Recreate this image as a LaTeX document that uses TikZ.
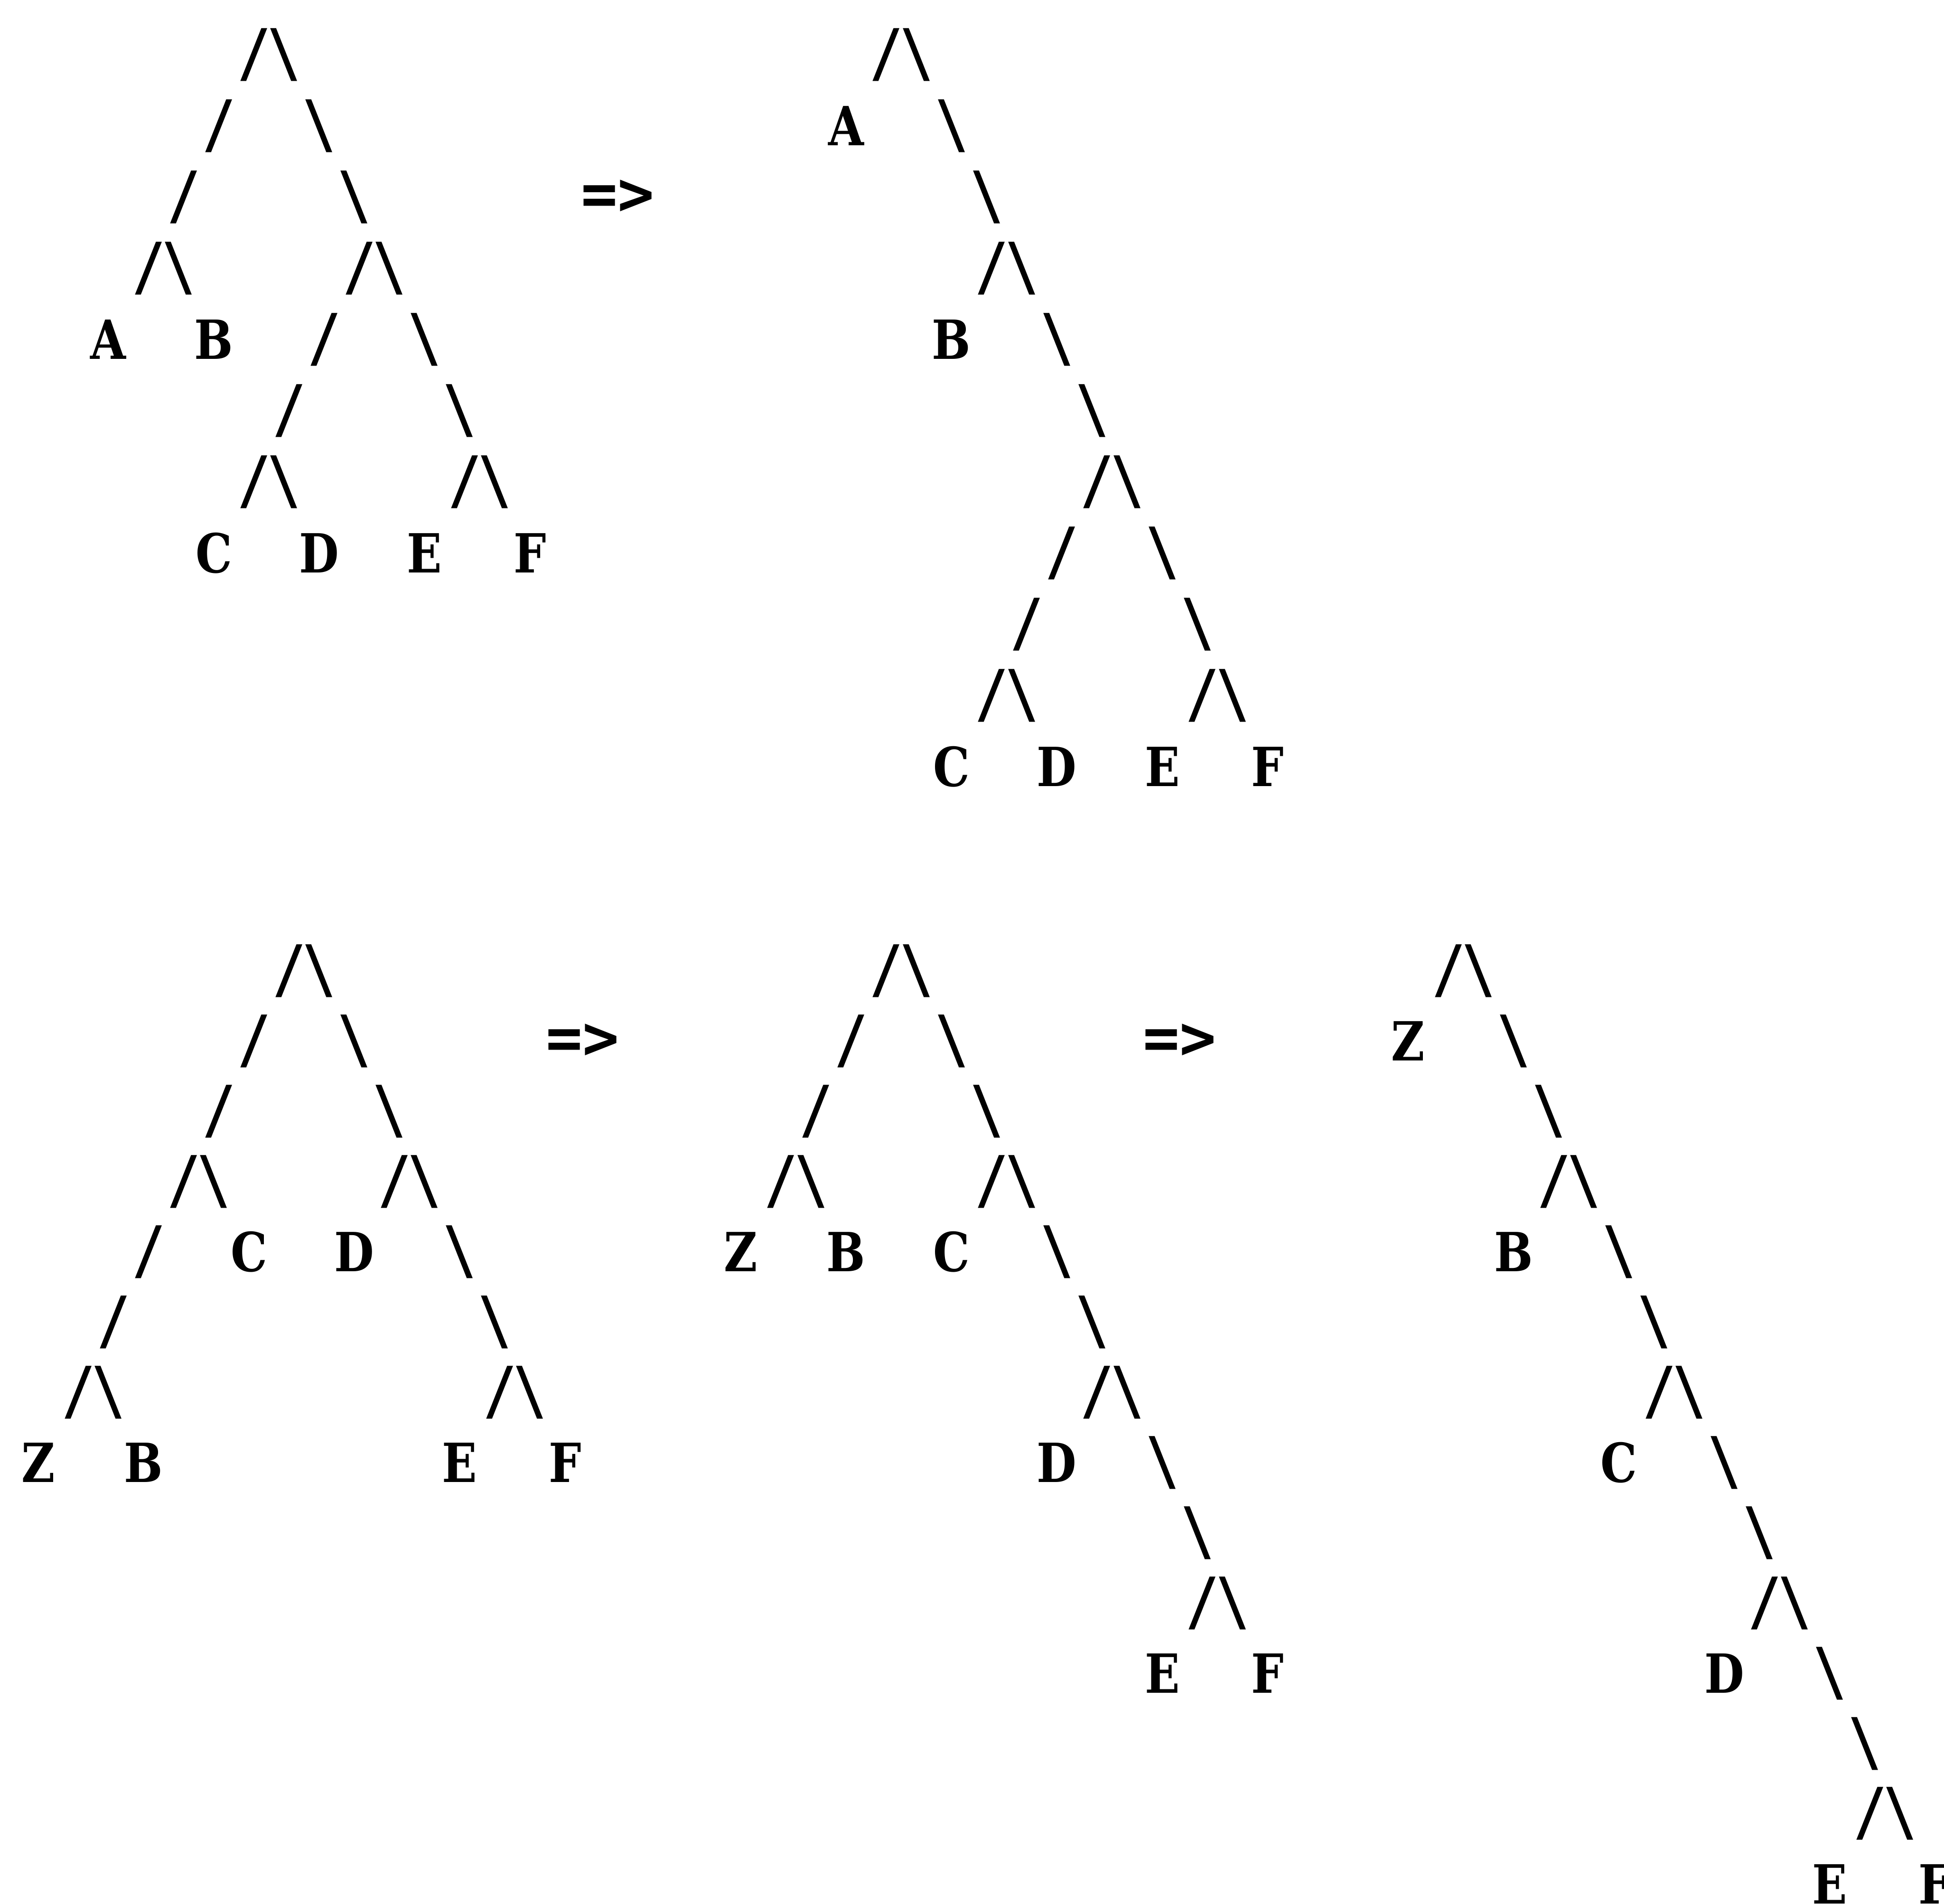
\documentclass[tikz,border=0pt]{standalone}
\usepackage{fontspec}
\newfontfamily\slashfont{DejaVu Sans Mono}[FakeStretch=0.85]
\newfontfamily\symfont{DejaVu Sans Mono}
\newfontfamily\leaffont{DejaVu Serif}[FakeStretch=0.85]

\begin{document}
\begin{tikzpicture}[
  fwd/.style={inner sep=0pt, xshift=1.3mm, font=\slashfont\bfseries\fontsize{46.5}{46.5}\selectfont},
  bck/.style={inner sep=0pt, font=\slashfont\bfseries\fontsize{46.5}{46.5}\selectfont},
  leaf/.style={inner sep=0pt, font=\leaffont\bfseries\fontsize{39}{39}\selectfont},
  sym/.style={inner sep=0pt, font=\symfont\bfseries\fontsize{44}{44}\selectfont},
]
\path[use as bounding box, fill=white] (0,0) rectangle (494.2mm,-483.9mm);
% upper line: tree => rotated tree
\begin{scope}[xshift=9.7mm, yshift=-13.9mm, x=8.93mm, y=-18.1mm]
% first tree
\foreach \c/\r [count=\i] in {6/0,5/1,4/2,3/3,9/3,8/4,7/5,6/6,12/6}
  \node[fwd] (t1f\i) at (\c,\r) {/};
\foreach \c/\r [count=\i] in {7/0,8/1,9/2,4/3,10/3,11/4,12/5,7/6,13/6}
  \node[bck] (t1b\i) at (\c,\r) {\textbackslash};
\node[leaf] (t1A) at (2,4) {A};
\node[leaf] (t1B) at (5,4) {B};
\node[leaf] (t1C) at (5,7) {C};
\node[leaf] (t1D) at (8,7) {D};
\node[leaf] (t1E) at (11,7) {E};
\node[leaf] (t1F) at (14,7) {F};
\node[sym] (t1to) at (16.5,2) {=>};
% second tree
\foreach \c/\r [count=\i] in {24/0,27/3,30/6,29/7,28/8,27/9,33/9}
  \node[fwd] (t2f\i) at (\c,\r) {/};
\foreach \c/\r [count=\i] in {25/0,26/1,27/2,28/3,29/4,30/5,31/6,32/7,33/8,28/9,34/9}
  \node[bck] (t2b\i) at (\c,\r) {\textbackslash};
\node[leaf] (t2A) at (23,1) {A};
\node[leaf] (t2B) at (26,4) {B};
\node[leaf] (t2C) at (26,10) {C};
\node[leaf] (t2D) at (29,10) {D};
\node[leaf] (t2E) at (32,10) {E};
\node[leaf] (t2F) at (35,10) {F};
\end{scope}
% lower line: tree => tree => tree
\begin{scope}[xshift=9.7mm, yshift=-246.8mm, x=8.93mm, y=-17.85mm]
% first tree
\foreach \c/\r [count=\i] in {7/0,6/1,5/2,4/3,10/3,3/4,2/5,1/6,13/6}
  \node[fwd] (b1f\i) at (\c,\r) {/};
\foreach \c/\r [count=\i] in {8/0,9/1,10/2,5/3,11/3,12/4,13/5,2/6,14/6}
  \node[bck] (b1b\i) at (\c,\r) {\textbackslash};
\node[leaf] (b1C) at (6,4) {C};
\node[leaf] (b1D) at (9,4) {D};
\node[leaf] (b1Z) at (0,7) {Z};
\node[leaf] (b1B) at (3,7) {B};
\node[leaf] (b1E) at (12,7) {E};
\node[leaf] (b1F) at (15,7) {F};
\node[sym] (b1to) at (15.5,1) {=>};
% second tree
\foreach \c/\r [count=\i] in {24/0,23/1,22/2,21/3,27/3,30/6,33/9}
  \node[fwd] (b2f\i) at (\c,\r) {/};
\foreach \c/\r [count=\i] in {25/0,26/1,27/2,22/3,28/3,29/4,30/5,31/6,32/7,33/8,34/9}
  \node[bck] (b2b\i) at (\c,\r) {\textbackslash};
\node[leaf] (b2Z) at (20,4) {Z};
\node[leaf] (b2B) at (23,4) {B};
\node[leaf] (b2C) at (26,4) {C};
\node[leaf] (b2D) at (29,7) {D};
\node[leaf] (b2E) at (32,10) {E};
\node[leaf] (b2F) at (35,10) {F};
\node[sym] (b2to) at (32.5,1) {=>};
% third tree
\foreach \c/\r [count=\i] in {40/0,43/3,46/6,49/9,52/12}
  \node[fwd] (b3f\i) at (\c,\r) {/};
\foreach \c/\r [count=\i] in {41/0,42/1,43/2,44/3,45/4,46/5,47/6,48/7,49/8,50/9,51/10,52/11,53/12}
  \node[bck] (b3b\i) at (\c,\r) {\textbackslash};
\node[leaf] (b3Z) at (39,1) {Z};
\node[leaf] (b3B) at (42,4) {B};
\node[leaf] (b3C) at (45,7) {C};
\node[leaf] (b3D) at (48,10) {D};
\node[leaf] (b3E) at (51,13) {E};
\node[leaf] (b3F) at (54,13) {F};
\end{scope}
\end{tikzpicture}
\end{document}
